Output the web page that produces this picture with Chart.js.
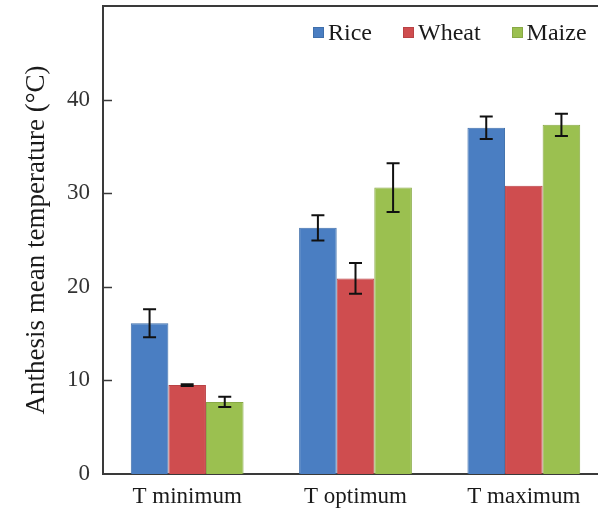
<!DOCTYPE html>
<html><head><meta charset="utf-8">
<script src="https://cdn.jsdelivr.net/npm/chart.js@4.4.1/dist/chart.umd.min.js"></script>
<style>
html,body{margin:0;padding:0;background:#fff;overflow:hidden}
#wrap{width:598px;height:510px;overflow:hidden;position:relative;background:#fff}
canvas{display:block}
#legend{position:absolute;left:313px;top:18px;display:flex;align-items:center;
  font-family:'Liberation Serif','Times New Roman',serif;font-size:24px;color:#1a1a1a;line-height:28px;white-space:nowrap}
#legend .item{display:flex;align-items:center;margin-right:31px}
#legend .box{width:11px;height:11px;margin-right:4px;box-sizing:border-box}
</style></head><body>
<div id="wrap"><canvas id="c" width="612" height="510"></canvas><div id="legend"></div></div>
<script>
const categories = ['T minimum', 'T optimum', 'T maximum'];
const seriesNames = ['Rice', 'Wheat', 'Maize'];
const rice = [16.1, 26.3, 37.0];
const wheat = [9.5, 20.9, 30.8];
const maize = [7.7, 30.6, 37.3];
const riceErr = [1.5, 1.35, 1.2];
const wheatErr = [0.1, 1.65, 0];
const maizeErr = [0.55, 2.6, 1.2];
const yTicks = [0, 10, 20, 30, 40];
const yTitle = 'Anthesis mean temperature (\u00B0C)';

const FONT = "'Liberation Serif', 'Times New Roman', serif";
const AXIS = '#3a3a3a';

const errorBars = {
  id: 'errorBars',
  afterDatasetsDraw(chart) {
    const ctx = chart.ctx, y = chart.scales.y;
    chart.data.datasets.forEach((ds, i) => {
      const meta = chart.getDatasetMeta(i);
      meta.data.forEach((bar, j) => {
        const e = ds.errors[j];
        if (!e) return;
        const v = ds.data[j];
        const t = y.getPixelForValue(v + e), b = y.getPixelForValue(v - e);
        ctx.save();
        ctx.strokeStyle = '#111';
        ctx.lineWidth = 2;
        ctx.beginPath();
        ctx.moveTo(bar.x, t); ctx.lineTo(bar.x, b);
        ctx.moveTo(bar.x - 6.5, t); ctx.lineTo(bar.x + 6.5, t);
        ctx.moveTo(bar.x - 6.5, b); ctx.lineTo(bar.x + 6.5, b);
        ctx.stroke();
        ctx.restore();
      });
    });
  }
};

const innerTicks = {
  id: 'innerTicks',
  afterDraw(chart) {
    const ctx = chart.ctx, y = chart.scales.y, a = chart.chartArea;
    ctx.save();
    ctx.strokeStyle = AXIS;
    ctx.lineWidth = 1.5;
    yTicks.forEach(v => {
      if (v === 0) return;
      const py = Math.round(y.getPixelForValue(v)) + 0.5;
      ctx.beginPath();
      ctx.moveTo(a.left, py);
      ctx.lineTo(a.left + 9, py);
      ctx.stroke();
    });
    ctx.restore();
  }
};

const chart = new Chart(document.getElementById('c'), {
  type: 'bar',
  data: {
    labels: categories,
    datasets: [
      { label: seriesNames[0], data: rice, errors: riceErr, backgroundColor: '#4a7ec2', borderColor: '#3f6fab', borderWidth: 1 },
      { label: seriesNames[1], data: wheat, errors: wheatErr, backgroundColor: '#cf4d4f', borderColor: '#b94245', borderWidth: 1 },
      { label: seriesNames[2], data: maize, errors: maizeErr, backgroundColor: '#9bc050', borderColor: '#88a945', borderWidth: 1 }
    ]
  },
  options: {
    responsive: false,
    animation: false,
    layout: { padding: { top: 6, right: 4, left: 8, bottom: 0 } },
    datasets: { bar: { categoryPercentage: 0.67, barPercentage: 1.0 } },
    plugins: {
      tooltip: { enabled: false },
      legend: { display: false }
    },
    scales: {
      x: {
        type: 'category',
        grid: { display: false },
        border: { display: true, color: AXIS, width: 2 },
        ticks: { color: '#1a1a1a', padding: 1, font: { family: FONT, size: 23 } },
        afterFit(s) { s.height = 36; s.paddingLeft = 0; s.paddingRight = 0; }
      },
      x2: {
        type: 'category',
        position: 'top',
        grid: { display: false },
        border: { display: true, color: AXIS, width: 2 },
        ticks: { display: false },
        afterFit(s) { s.height = 0; }
      },
      y: {
        min: 0, max: 50,
        grid: { display: false },
        border: { display: true, color: AXIS, width: 2 },
        ticks: {
          stepSize: 10, padding: 5, color: '#333',
          font: { family: FONT, size: 23 },
          callback: v => yTicks.includes(v) ? String(v) : ''
        },
        title: {
          display: true, text: yTitle, color: '#1a1a1a',
          padding: { top: 13, bottom: 0 },
          font: { family: FONT, size: 27 }
        },
        afterFit(s) { s.width = 95; s.paddingTop = 0; s.paddingBottom = 0; }
      }
    }
  },
  plugins: [errorBars, innerTicks]
});

const legendEl = document.getElementById('legend');
chart.data.datasets.forEach(ds => {
  const item = document.createElement('div');
  item.className = 'item';
  const box = document.createElement('span');
  box.className = 'box';
  box.style.background = ds.backgroundColor;
  box.style.border = '1px solid ' + ds.borderColor;
  const txt = document.createElement('span');
  txt.textContent = ds.label;
  item.appendChild(box);
  item.appendChild(txt);
  legendEl.appendChild(item);
});
</script>
</body></html>
